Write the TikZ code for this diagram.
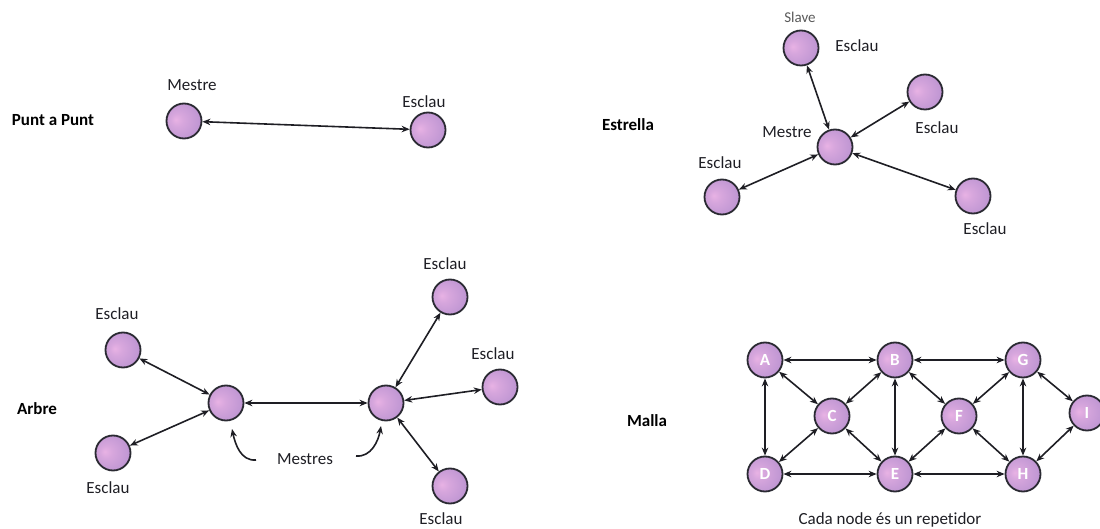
\documentclass[tikz,border=0pt]{standalone}
\usepackage{fontspec}
\setmainfont{Carlito}[RawFeature=-liga]
\usetikzlibrary{arrows.meta}
\definecolor{orbhi}{HTML}{E8B2E4}
\definecolor{orbmid}{HTML}{C298D4}
\definecolor{orblo}{HTML}{A577BF}
\definecolor{rim}{HTML}{2A2A32}
\definecolor{ink}{HTML}{1E1E24}
\pgfdeclareradialshading{orb}{\pgfpoint{-12bp}{2bp}}{%
  color(0bp)=(orbhi); color(9bp)=(orbhi!55!orbmid); color(26bp)=(orbmid);
  color(40bp)=(orblo); color(50bp)=(orblo)}
\tikzset{
  orbnode/.style={circle, draw=rim, line width=1.8pt, minimum size=35pt,
    inner sep=0pt, shading=orb, text=white,
    font=\bfseries\fontsize{17}{17}\selectfont},
  link/.style={{Stealth[length=8pt,width=6.5pt]}-{Stealth[length=8pt,width=6.5pt]},
    line width=1.6pt, draw=ink},
  pointer/.style={-{Stealth[length=8pt,width=6.5pt]}, line width=1.6pt, draw=ink},
  tag/.style={font=\fontsize{17}{20}\selectfont, text=ink},
  heading/.style={font=\bfseries\fontsize{17}{20}\selectfont, text=black},
}
\begin{document}
\begin{tikzpicture}[x=1pt, y=-1pt]
\useasboundingbox (0,0) rectangle (1100,529);

% ---- Punt a Punt ----
\node[heading] (ppT) at (53,120) {Punt a Punt};
\node[orbnode] (ppM) at (184,121) {};
\node[orbnode] (ppS) at (428,130) {};
\node[tag] (ppMl) at (192,85) {Mestre};
\node[tag] (ppSl) at (424,102) {Esclau};
\draw[link] (ppM) -- (ppS);

% ---- Estrella ----
\node[heading] (stT) at (628,125) {Estrella};
\node[orbnode] (stM) at (835,147) {};
\node[orbnode] (stA) at (801,48) {};
\node[orbnode] (stB) at (925,92) {};
\node[orbnode] (stC) at (722,197) {};
\node[orbnode] (stD) at (973,196) {};
\node[font=\fontsize{15}{17}\selectfont, text=black!65] (stAs) at (800,17) {Slave};
\node[tag] (stAl) at (857,46) {Esclau};
\node[tag] (stBl) at (937,128) {Esclau};
\node[tag] (stMl) at (787,132) {Mestre};
\node[tag] (stCl) at (720,163) {Esclau};
\node[tag] (stDl) at (985,229) {Esclau};
\foreach \s in {stA,stB,stC,stD} \draw[link] (stM) -- (\s);

% ---- Arbre ----
\node[heading] (trT) at (37,409) {Arbre};
\node[orbnode] (trL) at (226,403) {};
\node[orbnode] (trR) at (386,403) {};
\node[orbnode] (trLa) at (123,350) {};
\node[orbnode] (trLb) at (113,453) {};
\node[orbnode] (trRa) at (450,297) {};
\node[orbnode] (trRb) at (500,387) {};
\node[orbnode] (trRc) at (450,486) {};
\node[tag] (trLal) at (117,314) {Esclau};
\node[tag] (trLbl) at (108,488) {Esclau};
\node[tag] (trRal) at (445,264) {Esclau};
\node[tag] (trRbl) at (493,354) {Esclau};
\node[tag] (trRcl) at (441,519) {Esclau};
\node[tag] (trMl) at (305,459) {Mestres};
\draw[link] (trL) -- (trR);
\draw[link] (trL) -- (trLa);
\draw[link] (trL) -- (trLb);
\foreach \s in {trRa,trRb,trRc} \draw[link] (trR) -- (\s);
\coordinate (cvL) at (256,460);
\coordinate (cvLt) at (232,429);
\coordinate (cvR) at (356,456);
\coordinate (cvRt) at (381,426);
\draw[pointer] (cvL) to[out=185,in=-78] (cvLt);
\draw[pointer] (cvR) to[out=-5,in=-100] (cvRt);

% ---- Malla ----
\node[heading] (msT) at (647,421) {Malla};
\node[orbnode] (A) at (765,360) {A};
\node[orbnode] (B) at (895,360) {B};
\node[orbnode] (G) at (1023,360) {G};
\node[orbnode] (C) at (832,416) {C};
\node[orbnode] (F) at (959,416) {F};
\node[orbnode] (I) at (1087,413) {I};
\node[orbnode] (D) at (765,474) {D};
\node[orbnode] (E) at (895,474) {E};
\node[orbnode] (H) at (1023,474) {H};
\node[tag] (msC) at (890,520) {Cada node és un repetidor};
\foreach \p/\q in {A/B,B/G,A/D,A/C,C/B,C/D,C/E,B/E,B/F,F/G,F/E,F/H,G/H,G/I,I/H,D/E,E/H}
  \draw[link] (\p) -- (\q);
\end{tikzpicture}
\end{document}
